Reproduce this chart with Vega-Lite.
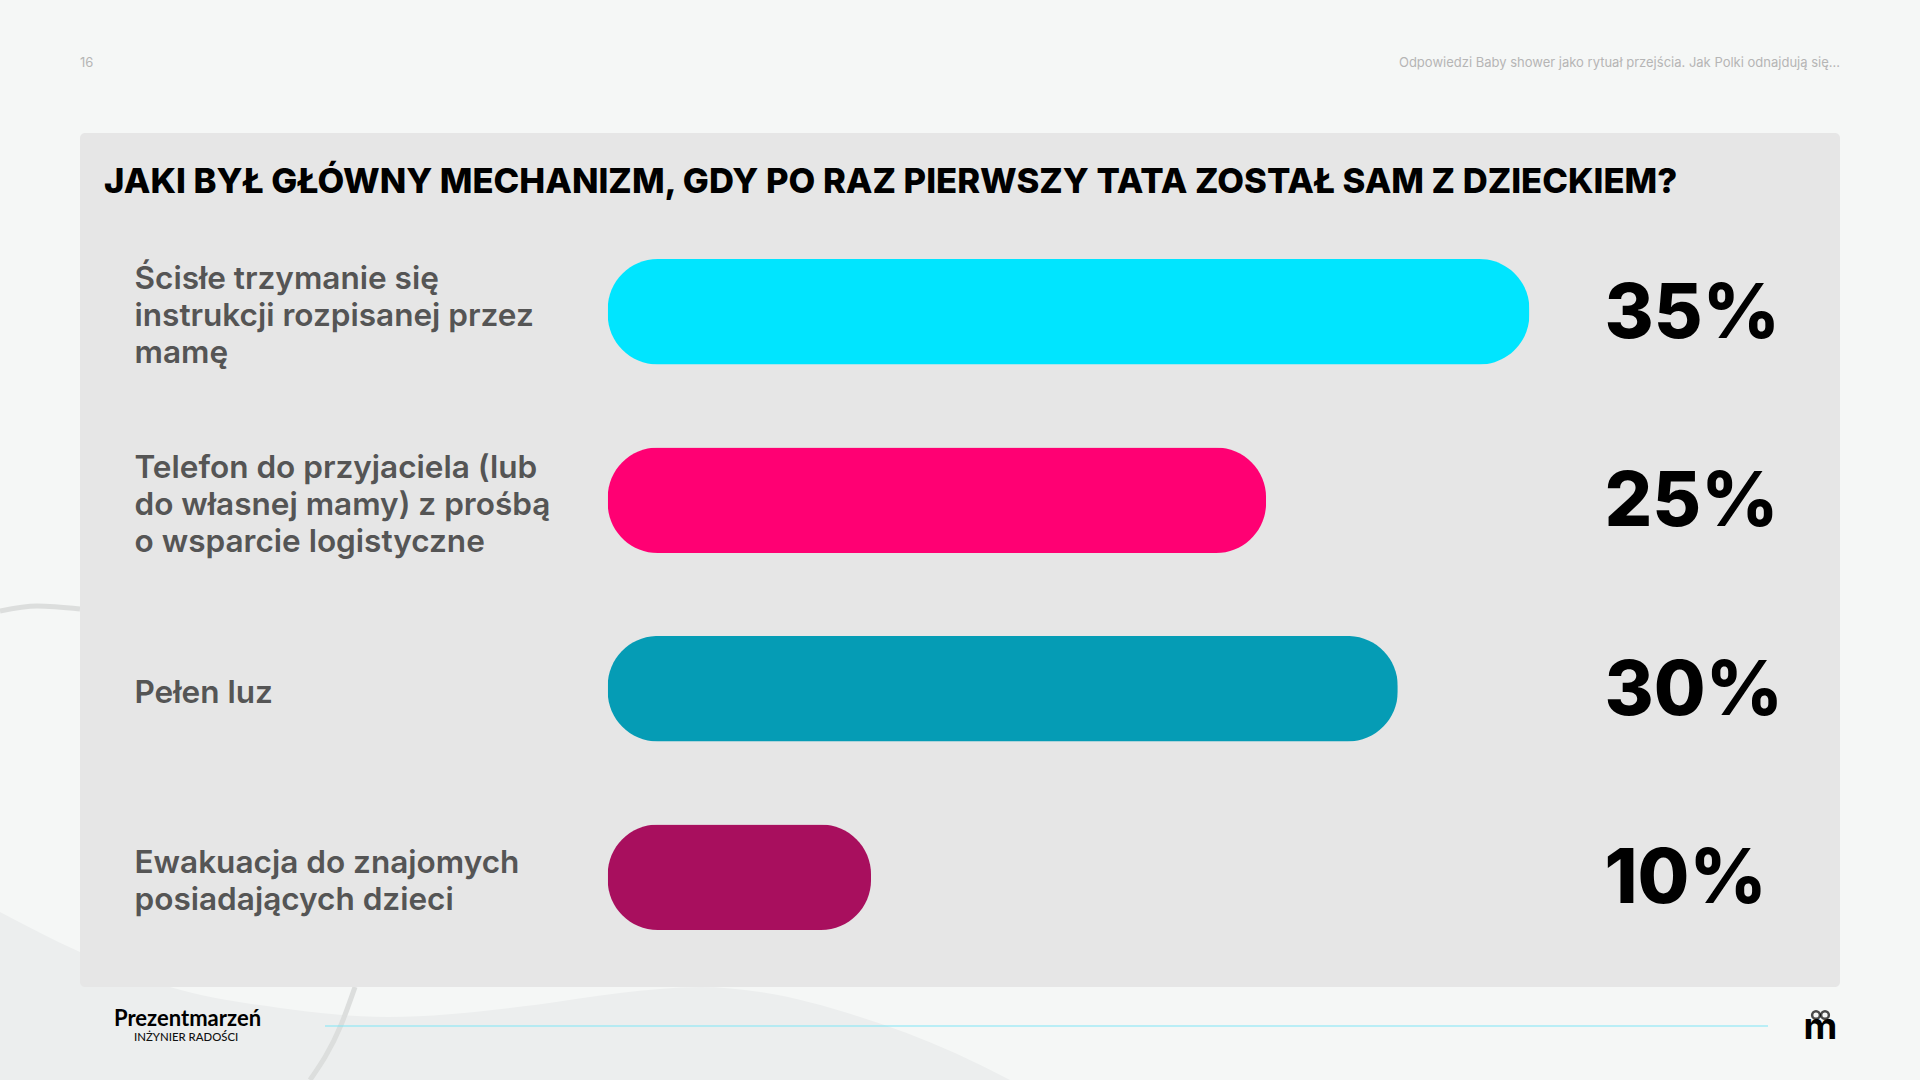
{
  "$schema": "https://vega.github.io/schema/vega-lite/v5.json",
  "width": 1920,
  "height": 1080,
  "padding": 0,
  "autosize": "none",
  "background": "#f5f7f6",
  "config": {"view": {"stroke": null}},
  "title": {
    "text": "JAKI BYŁ GŁÓWNY MECHANIZM, GDY PO RAZ PIERWSZY TATA ZOSTAŁ SAM Z DZIECKIEM?",
    "anchor": "start",
    "frame": "group",
    "orient": "top",
    "offset": -228,
    "dx": 104,
    "baseline": "alphabetic",
    "font": "Inter",
    "fontSize": 34.65,
    "fontWeight": 800,
    "color": "#000000",
    "limit": 1800
  },
  "resolve": {"scale": {"x": "independent", "y": "independent"}},
  "layer": [
    {
      "data": {"values": [{}]},
      "layer": [
        {
          "data": {"values": [
            {"x": 0, "y": 912}, {"x": 80, "y": 952}, {"x": 170, "y": 987}, {"x": 280, "y": 1008},
            {"x": 388, "y": 1017}, {"x": 535, "y": 1005}, {"x": 620, "y": 993}, {"x": 700, "y": 987},
            {"x": 760, "y": 992}, {"x": 857, "y": 1016}, {"x": 955, "y": 1053}, {"x": 1010, "y": 1080}
          ]},
          "mark": {"type": "area", "color": "#eceeee", "interpolate": "monotone"},
          "encoding": {
            "x": {"field": "x", "type": "quantitative", "axis": null, "scale": {"domain": [0, 1920], "nice": false, "zero": false}},
            "y": {"field": "y", "type": "quantitative", "axis": null, "scale": {"domain": [1080, 0], "nice": false, "zero": false}},
            "y2": {"datum": 1080}
          }
        },
        {
          "data": {"values": [{"x": 0, "y": 611}, {"x": 37, "y": 606}, {"x": 80, "y": 609}]},
          "mark": {"type": "line", "color": "#dcdedd", "strokeWidth": 5, "interpolate": "monotone"},
          "encoding": {
            "x": {"field": "x", "type": "quantitative"},
            "y": {"field": "y", "type": "quantitative"}
          }
        },
        {
          "data": {"values": [{"x": 310, "y": 1080}, {"x": 341, "y": 1025}, {"x": 355, "y": 987}]},
          "mark": {"type": "line", "color": "#dcdedd", "strokeWidth": 5, "interpolate": "monotone"},
          "encoding": {
            "x": {"field": "x", "type": "quantitative"},
            "y": {"field": "y", "type": "quantitative"}
          }
        },
        {
          "mark": {"type": "rect", "color": "#e6e6e6", "cornerRadius": 5},
          "encoding": {
            "x": {"datum": 80},
            "x2": {"datum": 1840},
            "y": {"datum": 133},
            "y2": {"datum": 987}
          }
        },
        {
          "mark": {"type": "rule", "color": "#7fe6f5", "strokeWidth": 1.2},
          "encoding": {
            "x": {"datum": 325},
            "x2": {"datum": 1768},
            "y": {"datum": 1026}
          }
        },
        {
          "mark": {"type": "text", "text": "16", "font": "Inter", "fontSize": 13, "color": "#b5b5b5", "align": "left", "baseline": "middle"},
          "encoding": {"x": {"datum": 80}, "y": {"datum": 63}}
        },
        {
          "mark": {"type": "text", "text": "Odpowiedzi Baby shower jako rytuał przejścia. Jak Polki odnajdują się...", "font": "Inter", "fontSize": 13, "color": "#b5b5b5", "align": "right", "baseline": "middle"},
          "encoding": {"x": {"datum": 1840}, "y": {"datum": 63}}
        },
        {
          "mark": {"type": "text", "text": "Prezentmarzeń", "font": "Lato", "fontSize": 22, "fontWeight": 700, "color": "#000000", "align": "left", "baseline": "alphabetic"},
          "encoding": {"x": {"datum": 114}, "y": {"datum": 1026}}
        },
        {
          "mark": {"type": "text", "text": "INŻYNIER RADOŚCI", "font": "Lato", "fontSize": 11.4, "fontWeight": 500, "color": "#111111", "align": "left", "baseline": "alphabetic"},
          "encoding": {"x": {"datum": 134}, "y": {"datum": 1041}}
        },
        {
          "mark": {"type": "text", "text": "m", "font": "Inter", "fontSize": 37, "fontWeight": 700, "color": "#000000", "align": "center", "baseline": "alphabetic"},
          "encoding": {"x": {"datum": 1820.5}, "y": {"datum": 1039}}
        },
        {
          "data": {"values": [{"x": 1816, "y": 1015}, {"x": 1825, "y": 1015}]},
          "mark": {"type": "point", "filled": false, "color": "#000000", "strokeWidth": 2.5, "size": 60},
          "encoding": {
            "x": {"field": "x", "type": "quantitative"},
            "y": {"field": "y", "type": "quantitative"}
          }
        }
      ]
    },
    {
      "data": {"values": [
        {"odpowiedz": "Ścisłe trzymanie się\ninstrukcji rozpisanej przez\nmamę", "procent": 0.35},
        {"odpowiedz": "Telefon do przyjaciela (lub\ndo własnej mamy) z prośbą\no wsparcie logistyczne", "procent": 0.25},
        {"odpowiedz": "Pełen luz", "procent": 0.30},
        {"odpowiedz": "Ewakuacja do znajomych\nposiadających dzieci", "procent": 0.10}
      ]},
      "encoding": {
        "y": {
          "field": "odpowiedz",
          "type": "nominal",
          "sort": null,
          "title": null,
          "scale": {"range": [259, 930], "paddingInner": 0.44, "paddingOuter": 0},
          "axis": {
            "orient": "left",
            "offset": -608,
            "domain": false,
            "ticks": false,
            "grid": false,
            "zindex": 1,
            "labelAlign": "left",
            "labelPadding": 474,
            "labelLimit": 0,
            "labelFont": "Inter",
            "labelFontSize": 31.55,
            "labelFontWeight": 600,
            "labelColor": "#555555",
            "labelLineHeight": 37,
            "labelExpr": "split(datum.label, '\\n')",
            "labelOffset": {
              "condition": [
                {"test": "length(split(datum.value, '\\n')) == 3", "value": -31.6},
                {"test": "length(split(datum.value, '\\n')) == 2", "value": -13.2}
              ],
              "value": 5
            }
          }
        }
      },
      "layer": [
        {
          "mark": {"type": "bar", "cornerRadius": 50},
          "encoding": {
            "x": {"field": "procent", "type": "quantitative", "axis": null, "scale": {"domain": [-0.23075, 0.4983], "nice": false, "zero": false}},
            "color": {
              "field": "odpowiedz",
              "type": "nominal",
              "sort": null,
              "legend": null,
              "scale": {"range": ["#00e5ff", "#ff0073", "#059cb5", "#a80f5e"]}
            }
          }
        },
        {
          "mark": {"type": "text", "align": "left", "baseline": "middle", "dy": 3, "font": "Inter", "fontSize": 75, "fontWeight": 800, "color": "#000000"},
          "encoding": {
            "x": {"datum": 0.3785},
            "text": {"field": "procent", "type": "quantitative", "format": ".0%"}
          }
        }
      ]
    }
  ]
}
